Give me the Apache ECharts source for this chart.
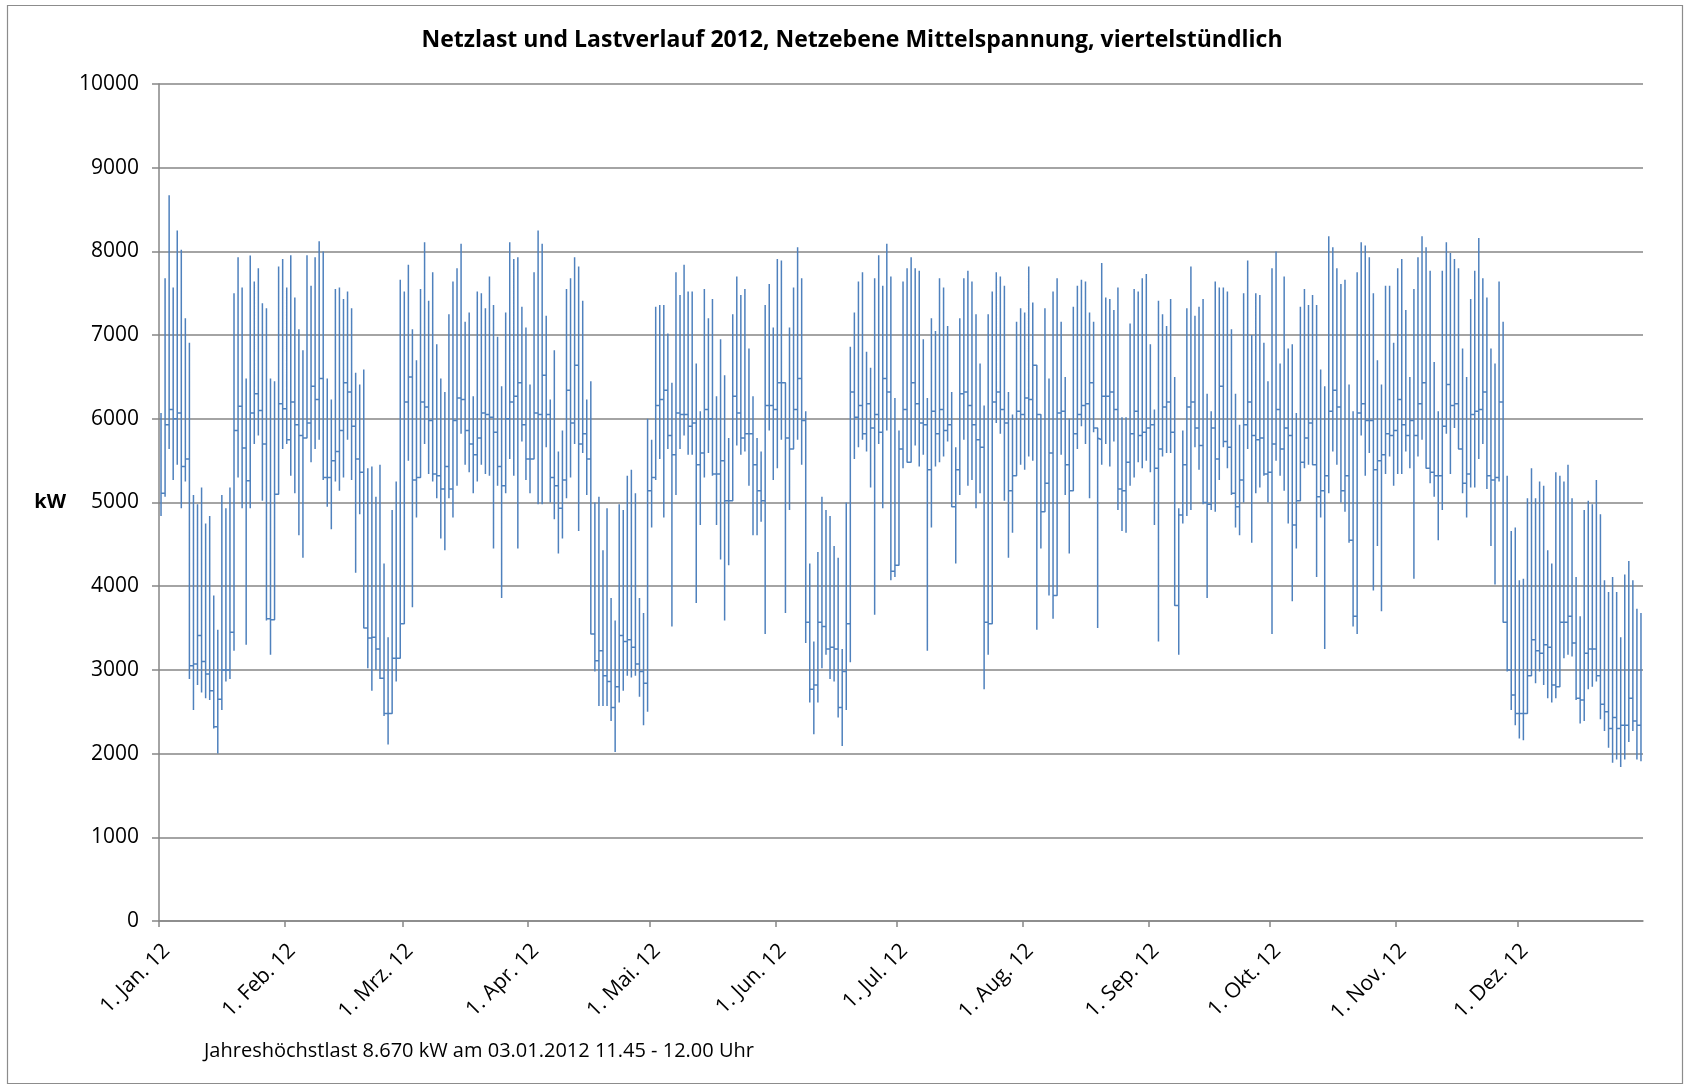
<!DOCTYPE html>
<html lang="de">
<head>
<meta charset="utf-8">
<title>Netzlast und Lastverlauf 2012</title>
<script src="https://cdn.jsdelivr.net/npm/echarts@6/dist/echarts.min.js"></script>
<style>
  html, body { margin: 0; padding: 0; background: #ffffff; }
  #chart { width: 1684px; height: 1084px; }
</style>
</head>
<body>
<div id="chart"></div>
<script>
// Tagesweise Kennwerte der viertelstündlichen Netzlast 2012 (kW), je Monat eine Zeile.
// Tagesspitze
const dailyPeak = [
  /* Jan */ 6070, 7680, 8670, 7570, 8250, 8020, 7200, 6910, 5090, 4980, 5180, 4750, 4840, 3890, 3480, 5090, 4930, 5180, 7500, 7930, 7570, 6480, 7950, 7640, 7800, 7380, 7320, 6480, 6450, 7820, 7910,
  /* Feb */ 7570, 7955, 7450, 7070, 6820, 7955, 7590, 7930, 8120, 8000, 6480, 6230, 7550, 7570, 7430, 7520, 7320, 6550, 6410, 6590, 5410, 5430, 5070, 5450, 4270, 3390, 4910, 5250, 7660,
  /* Mrz */ 7520, 7840, 7070, 6700, 7550, 8110, 7410, 7750, 6890, 6480, 6320, 7250, 7640, 7800, 8090, 7160, 7270, 6270, 7520, 7500, 7320, 7700, 7360, 6980, 6390, 7270, 8110, 7910, 7930, 7340, 7090,
  /* Apr */ 6410, 7750, 8250, 8090, 7230, 6230, 6820, 5610, 5860, 7550, 7680, 7930, 7820, 7410, 6230, 6450, 5000, 5070, 4430, 4930, 3860, 3590, 4980, 4910, 5320, 5390, 5110, 3860, 3680, 6000,
  /* Mai */ 5750, 7340, 7360, 7360, 7020, 6430, 7750, 7480, 7840, 7520, 7520, 6660, 6090, 7550, 7200, 7430, 6270, 6950, 6520, 5770, 7250, 7700, 7480, 7550, 6840, 6270, 5770, 5610, 7360, 7610, 7090,
  /* Jun */ 7910, 7890, 6140, 7090, 7570, 8050, 7680, 6090, 4270, 3340, 4410, 5070, 4910, 4840, 4480, 4340, 3250, 5000, 6860, 7270, 7640, 7750, 6800, 6610, 7680, 7955, 7590, 8090, 7700, 6250,
  /* Jul */ 5860, 7640, 7800, 7930, 7800, 7770, 6950, 6250, 7200, 7050, 7680, 7570, 7110, 6320, 5660, 7200, 7680, 7770, 7640, 7250, 6660, 6160, 7250, 7520, 7750, 7700, 7590, 6320, 6050, 7160, 7320,
  /* Aug */ 7270, 7820, 7390, 6640, 5860, 7320, 6480, 7520, 7680, 7160, 6500, 6000, 7340, 7590, 7660, 7640, 7270, 7160, 5770, 7860, 7450, 7430, 7300, 7570, 6020, 6020, 7140, 7550, 7520, 7680, 7730,
  /* Sep */ 6890, 6110, 7410, 7250, 7110, 7430, 6500, 4930, 5860, 7320, 7820, 7230, 7340, 7430, 6300, 6090, 7640, 7570, 7570, 7520, 7070, 6300, 5930, 7500, 7890, 7000, 7500, 7480, 6910, 6450,
  /* Okt */ 7800, 8000, 6660, 7700, 6840, 6890, 6070, 7340, 7550, 7360, 7480, 7360, 6590, 6390, 8180, 8050, 7800, 7610, 7660, 6410, 6090, 7750, 8110, 8070, 7930, 7500, 6700, 6410, 7590, 7590, 6910,
  /* Nov */ 7800, 7910, 7300, 6500, 7550, 7930, 8180, 8050, 7770, 6680, 6090, 7770, 8110, 7980, 7910, 7800, 6840, 6500, 7430, 7770, 8160, 7680, 7450, 6840, 6660, 7640, 7160, 5320, 4660, 4700,
  /* Dez */ 4070, 4090, 5050, 5410, 5050, 5250, 5200, 4430, 4270, 5360, 5320, 5250, 5450, 5050, 4110, 3640, 4910, 5020, 4980, 5270, 4860, 4070, 3930, 4110, 3930, 3390, 4140, 4300, 4070, 3730, 3680
];

// Nachtminimum
const dailyTrough = [
  /* Jan */ 4840, 5070, 5640, 5270, 5450, 4930, 5250, 2890, 2520, 2820, 2730, 2660, 2640, 2300, 2000, 2520, 2860, 2890, 3230, 5300, 4930, 3300, 4930, 5700, 5800, 5020, 3590, 3180, 4820, 5500, 5640,
  /* Feb */ 5700, 5320, 5110, 4610, 4340, 5770, 5480, 5640, 5750, 5270, 4950, 4680, 5250, 5140, 5300, 5750, 5270, 4160, 4860, 3600, 3020, 2750, 3000, 2890, 2450, 2110, 2550, 2860, 3230,
  /* Mrz */ 5610, 5500, 3750, 4820, 5820, 5700, 5340, 5250, 5050, 4570, 4430, 5050, 4820, 5200, 5820, 5450, 5360, 5110, 5250, 5450, 5340, 5320, 4450, 5200, 3860, 5110, 5520, 5320, 4450, 5730, 5270,
  /* Apr */ 5110, 5700, 4980, 4980, 5660, 5000, 4800, 4390, 4570, 5050, 5300, 5700, 4660, 5590, 5090, 3430, 2980, 2570, 2570, 2570, 2390, 2020, 2610, 2750, 2930, 2910, 2930, 2680, 2340, 2500,
  /* Mai */ 4700, 5270, 5520, 4820, 5640, 3520, 5090, 5640, 5800, 5570, 5570, 3800, 4730, 5300, 5590, 5320, 4730, 4320, 3590, 4250, 5300, 5680, 5570, 5610, 5200, 4610, 4610, 4770, 3430, 5860, 5270,
  /* Jun */ 5410, 5750, 3680, 4910, 5660, 5750, 5450, 3320, 2610, 2230, 2610, 3020, 3180, 2890, 2860, 2430, 2090, 2520, 3090, 5520, 5660, 5750, 5610, 5180, 3660, 5700, 4930, 5860, 4070, 4110,
  /* Jul */ 4750, 5410, 5480, 5500, 5680, 5430, 5570, 3230, 4700, 5430, 5480, 5550, 5730, 4950, 4270, 5090, 5750, 5200, 5270, 4930, 5110, 2770, 3180, 5700, 5950, 5820, 5020, 4340, 4640, 5640, 5450,
  /* Aug */ 5390, 5550, 5500, 3480, 4450, 4950, 3890, 3610, 5770, 5570, 5090, 4390, 5500, 5640, 5910, 5700, 5050, 5840, 3500, 5450, 5700, 5430, 5730, 4910, 4660, 4640, 5200, 5300, 5480, 5410, 5500,
  /* Sep */ 5360, 4730, 3340, 5550, 5590, 5590, 3770, 3180, 4750, 4840, 4910, 5660, 5390, 4980, 3860, 4910, 4890, 5270, 5660, 5410, 5090, 4700, 4610, 5000, 5640, 4520, 5110, 5180, 5320, 5000,
  /* Okt */ 3430, 5500, 5320, 5140, 4750, 3820, 4450, 5090, 5410, 5450, 5450, 4110, 4820, 3250, 5110, 5610, 5450, 5000, 4890, 4520, 3520, 3430, 5800, 5320, 5590, 3950, 4480, 3700, 5340, 5550, 5200,
  /* Nov */ 5340, 5340, 5610, 5410, 4090, 5550, 5750, 5410, 5230, 5070, 4550, 4910, 5820, 5340, 5890, 5640, 5110, 4820, 5180, 5180, 5520, 5700, 5160, 4480, 4020, 5250, 3570, 2980, 2520, 2340,
  /* Dez */ 2180, 2160, 2730, 3180, 2840, 2980, 2820, 2660, 2610, 2660, 3070, 3140, 3180, 3160, 2640, 2360, 2390, 2770, 2800, 2860, 2410, 2270, 2070, 1890, 1930, 1840, 1930, 2140, 2270, 1930, 1910
];

// Abend-/Übergangsniveau
const dailyEvening = [
  /* Jan */ 5110, 5930, 6110, 6000, 6070, 5430, 5520, 3050, 3070, 3410, 3100, 2950, 2750, 2320, 2650, 3000, 3000, 3450, 5860, 6150, 5650, 5260, 6070, 6300, 6100, 5700, 3610, 3600, 5100, 6180, 6120,
  /* Feb */ 5750, 6200, 5930, 5800, 5770, 5950, 6390, 6230, 6480, 5300, 5300, 5500, 5610, 5860, 6430, 6320, 5910, 5520, 5360, 3500, 3380, 3390, 3250, 2900, 2480, 2480, 3140, 3140, 3550,
  /* Mrz */ 6200, 6500, 5270, 5300, 6200, 6140, 5980, 5340, 5320, 5160, 5430, 5160, 5980, 6250, 6230, 5860, 5700, 5570, 5770, 6070, 6050, 6020, 5840, 5430, 5200, 6000, 6200, 6270, 6430, 5930, 5520,
  /* Apr */ 5520, 6070, 6050, 6520, 6050, 5300, 5200, 4930, 5270, 6340, 5950, 6640, 5700, 5820, 5520, 3430, 3110, 3230, 2930, 2860, 2550, 2800, 3410, 3340, 3360, 3270, 3070, 2980, 2840, 5140,
  /* Mai */ 5300, 6160, 6230, 6340, 5800, 5570, 6070, 6050, 6050, 5910, 5950, 5450, 5590, 6110, 6000, 5340, 5340, 5500, 5020, 5020, 6270, 6070, 5770, 5820, 5820, 5450, 5140, 5020, 6160, 6160, 6110,
  /* Jun */ 6430, 6430, 5770, 5640, 6110, 6480, 5980, 3570, 2770, 2820, 3570, 3520, 3250, 3270, 3250, 2550, 2980, 3550, 6320, 6020, 6160, 5820, 6180, 5890, 6050, 5840, 6480, 6320, 4180, 4250,
  /* Jul */ 5640, 6110, 5480, 6430, 6180, 5950, 5930, 5390, 6090, 5820, 6110, 5860, 5930, 4950, 5390, 6300, 6320, 6160, 5930, 5750, 5660, 3570, 3550, 6200, 6320, 6110, 5950, 5140, 5320, 6090, 6050,
  /* Aug */ 6250, 6230, 6640, 6050, 4890, 5230, 5590, 3890, 6070, 6090, 5450, 5140, 5820, 6050, 6160, 6180, 6430, 5890, 5750, 6270, 6270, 6320, 6110, 5160, 5140, 5480, 5820, 6090, 5800, 5840, 5890,
  /* Sep */ 5930, 5410, 5640, 6140, 6200, 5840, 3770, 4850, 5450, 6140, 6200, 5890, 5680, 5000, 4980, 5890, 5520, 6390, 5730, 5660, 5110, 4950, 5270, 5930, 6200, 5800, 5750, 5770, 5340, 5360,
  /* Okt */ 5700, 6110, 5640, 5890, 5800, 4730, 5020, 5480, 5770, 5950, 5450, 5070, 5140, 5320, 6090, 6340, 6140, 5140, 5320, 4550, 3640, 6070, 6180, 5980, 5980, 5390, 5500, 5570, 5820, 5800, 5860,
  /* Nov */ 6230, 5930, 5800, 5980, 5800, 6180, 6430, 5410, 5360, 5320, 5320, 5910, 6410, 6160, 6180, 5640, 5230, 5340, 6050, 6090, 6110, 6320, 5320, 5270, 5300, 6200, 3570, 3000, 2700, 2480,
  /* Dez */ 2480, 2480, 2930, 3360, 3230, 3200, 3300, 3270, 2820, 2800, 3570, 3570, 3640, 3320, 2660, 2640, 3200, 3250, 3250, 2930, 2590, 2500, 2300, 2430, 2300, 2340, 2340, 2660, 2390, 2340, 2320
];

// Beschriftung der Zeitachse (Monatsanfänge 2012)
const monthLabels = ['1. Jan. 12', '1. Feb. 12', '1. Mrz. 12', '1. Apr. 12', '1. Mai. 12', '1. Jun. 12',
                     '1. Jul. 12', '1. Aug. 12', '1. Sep. 12', '1. Okt. 12', '1. Nov. 12', '1. Dez. 12'];
const yTicks = [0, 1000, 2000, 3000, 4000, 5000, 6000, 7000, 8000, 9000, 10000];

const TITLE = 'Netzlast und Lastverlauf 2012, Netzebene Mittelspannung, viertelstündlich';
const FOOTNOTE = 'Jahreshöchstlast 8.670 kW am 03.01.2012 11.45 - 12.00 Uhr';

// Tagesnummer (ab 1.1.2012) für jeden Monatsanfang
const DAY_MS = 86400000;
const yearStart = Date.UTC(2012, 0, 1);
const yearEnd = Date.UTC(2013, 0, 1);
const monthStartDays = monthLabels.map((_, m) => (Date.UTC(2012, m, 1) - yearStart) / DAY_MS);
const daysInYear = (yearEnd - yearStart) / DAY_MS;

// Lastverlauf je Tag als senkrechte Spanne (Minimum bis Spitze) in Tagesmitte,
// verbunden über das Abendniveau zum nächsten Tag
const loadPath = [];
for (let d = 0; d < dailyPeak.length; d++) {
  const x = d + 0.5;
  if (d > 0) loadPath.push([x, dailyEvening[d - 1]]);
  loadPath.push([x, dailyTrough[d]]);
  loadPath.push([x, dailyPeak[d]]);
  loadPath.push([x, dailyEvening[d]]);
}

const FONT = 'Open Sans, Liberation Sans, sans-serif';
const chart = echarts.init(document.getElementById('chart'), null, { renderer: 'canvas' });

chart.setOption({
  animation: false,
  backgroundColor: '#ffffff',
  title: {
    text: TITLE,
    left: 847,
    textAlign: 'center',
    top: 24,
    textStyle: { fontFamily: FONT, fontWeight: 'bold', fontSize: 23, color: '#000000' }
  },
  grid: { left: 159, right: 41, top: 84, bottom: 163, containLabel: false },
  xAxis: {
    type: 'value',
    min: 0,
    max: daysInYear,
    axisLine: { show: true, lineStyle: { color: '#868686', width: 1.5 } },
    axisTick: { show: true, length: 6, customValues: monthStartDays, lineStyle: { color: '#868686', width: 1.5 } },
    splitLine: { show: false },
    axisLabel: {
      customValues: monthStartDays,
      rotate: 45,
      margin: 19,
      verticalAlign: 'top',
      fontFamily: FONT,
      fontSize: 21,
      color: '#000000',
      formatter: (v) => monthLabels[monthStartDays.indexOf(v)] || ''
    }
  },
  yAxis: {
    type: 'value',
    min: yTicks[0],
    max: yTicks[yTicks.length - 1],
    interval: yTicks[1] - yTicks[0],
    name: 'kW',
    nameLocation: 'middle',
    nameRotate: 0,
    nameGap: 93,
    nameTextStyle: { fontFamily: FONT, fontWeight: 'bold', fontSize: 20, color: '#000000' },
    axisLine: { show: true, lineStyle: { color: '#868686', width: 1.5 } },
    axisTick: { show: true, length: 7, lineStyle: { color: '#868686', width: 1.5 } },
    splitLine: { show: true, lineStyle: { color: '#868686', width: 1.5 } },
    axisLabel: {
      margin: 20,
      fontFamily: FONT,
      fontSize: 21,
      color: '#000000',
      formatter: (v) => String(v)
    }
  },
  series: [{
    type: 'line',
    data: loadPath,
    showSymbol: false,
    sampling: 'none',
    clip: true,
    lineStyle: { color: '#4f81bd', width: 1.5 },
    itemStyle: { color: '#4f81bd' }
  }],
  graphic: [
    {
      type: 'rect',
      left: 5, top: 3,
      shape: { width: 1675, height: 1078 },
      style: { fill: 'none', stroke: '#8c8c8c', lineWidth: 1.2 },
      silent: true
    },
    {
      type: 'text',
      left: 204, top: 1041,
      style: { text: FOOTNOTE, fontFamily: FONT, fontSize: 20, fill: '#000000' }
    }
  ]
});
</script>
</body>
</html>
